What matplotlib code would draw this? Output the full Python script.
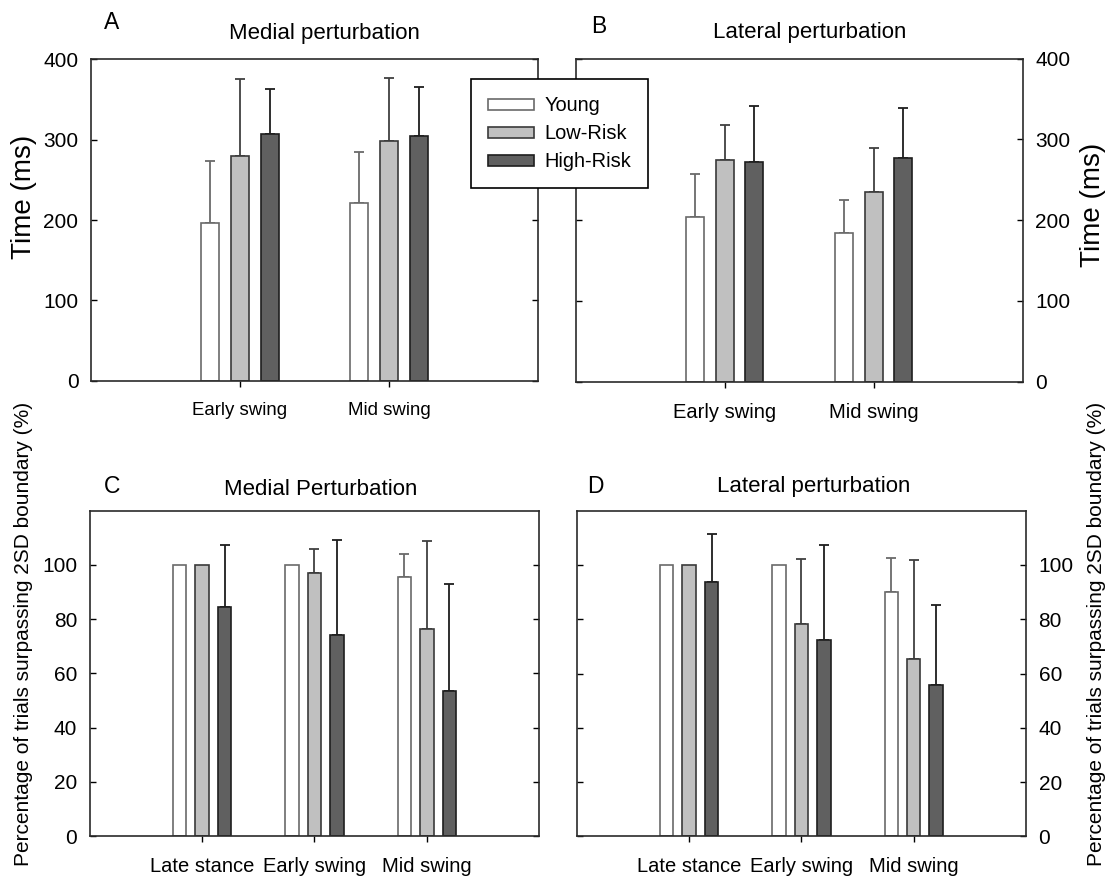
import matplotlib
matplotlib.use("Agg")
import matplotlib.pyplot as plt
from matplotlib.patches import Patch
import numpy as np

plt.rcParams['font.family'] = ['Liberation Sans', 'DejaVu Sans']

# Groups and bar styling
groups = ['Young', 'Low-Risk', 'High-Risk']
face_colors = ['#ffffff', '#c0c0c0', '#606060']
edge_colors = ['#6a6a6a', '#3a3a3a', '#1e1e1e']
err_colors = ['#6a6a6a', '#404040', '#1e1e1e']

# Top row: response time (ms)
time_phases = ['Early swing', 'Mid swing']
medial_time = {
    'Young': [196, 221],
    'Low-Risk': [280, 298],
    'High-Risk': [307, 304],
}
medial_time_err = {
    'Young': [77, 64],
    'Low-Risk': [96, 79],
    'High-Risk': [56, 62],
}
lateral_time = {
    'Young': [204, 184],
    'Low-Risk': [275, 235],
    'High-Risk': [272, 277],
}
lateral_time_err = {
    'Young': [53, 41],
    'Low-Risk': [43, 55],
    'High-Risk': [69, 62],
}

# Bottom row: percentage of trials surpassing 2SD boundary
pct_phases = ['Late stance', 'Early swing', 'Mid swing']
medial_pct = {
    'Young': [100, 100, 95.6],
    'Low-Risk': [100, 97, 76.4],
    'High-Risk': [84.5, 74.2, 53.4],
}
medial_pct_err = {
    'Young': [0, 0, 8.5],
    'Low-Risk': [0, 9, 32.5],
    'High-Risk': [22.9, 35, 39.7],
}
lateral_pct = {
    'Young': [100, 100, 89.9],
    'Low-Risk': [100, 78.3, 65.4],
    'High-Risk': [93.8, 72.4, 55.9],
}
lateral_pct_err = {
    'Young': [0, 0, 12.6],
    'Low-Risk': [0, 23.8, 36.4],
    'High-Risk': [17.7, 35.1, 29.2],
}

W, H = 1111, 876
fig = plt.figure(figsize=(W / 100, H / 100), dpi=100)


def rect(left, top, right, bottom):
    """Axes rectangle from pixel edges."""
    return [left / W, 1 - bottom / H, (right - left) / W, (bottom - top) / H]


def ftext(x, y, s, **kw):
    fig.text(x / W, 1 - y / H, s, **kw)


def draw_panel(ax, phases, values, errors, ylim, yticks, label_side, xfont):
    x = np.arange(1, len(phases) + 1)
    width = 0.12
    offsets = [-0.2, 0.0, 0.2]
    for g, off, fc, ec, erc in zip(groups, offsets, face_colors, edge_colors, err_colors):
        vals = np.array(values[g])
        errs = np.array(errors[g])
        ax.bar(x + off, vals, width, color=fc, edgecolor=ec, linewidth=1.2, zorder=2)
        show = errs > 0
        if show.any():
            ax.errorbar((x + off)[show], vals[show],
                        yerr=[np.zeros(show.sum()), errs[show]],
                        fmt='none', ecolor=erc, elinewidth=1.3, capsize=3.5,
                        capthick=1.3, zorder=1)
    ax.set_xlim(0, len(phases) + 1)
    ax.set_ylim(*ylim)
    ax.set_yticks(yticks)
    ax.set_xticks(x)
    ax.set_xticklabels(phases, fontsize=xfont)
    ax.tick_params(axis='x', direction='out', length=4, width=1, pad=11, top=False)
    ax.tick_params(axis='y', direction='in', length=4, width=1, pad=9,
                   left=True, right=True, labelsize=15,
                   labelleft=(label_side == 'left'), labelright=(label_side == 'right'))
    for sp in ax.spines.values():
        sp.set_color('#2a2a2a')
        sp.set_linewidth(1.2)


axA = fig.add_axes(rect(91, 59.3, 538, 380.7))
draw_panel(axA, time_phases, medial_time, medial_time_err, (0, 400),
           [0, 100, 200, 300, 400], 'left', 13.4)
axB = fig.add_axes(rect(575.7, 58.7, 1022.5, 381.7))
draw_panel(axB, time_phases, lateral_time, lateral_time_err, (0, 400),
           [0, 100, 200, 300, 400], 'right', 14.5)
axC = fig.add_axes(rect(89.6, 510.7, 539.3, 836))
draw_panel(axC, pct_phases, medial_pct, medial_pct_err, (0, 120),
           [0, 20, 40, 60, 80, 100], 'left', 14.5)
axD = fig.add_axes(rect(576.8, 510.7, 1026, 836.3))
draw_panel(axD, pct_phases, lateral_pct, lateral_pct_err, (0, 120),
           [0, 20, 40, 60, 80, 100], 'right', 14.5)

# Panel letters and titles
ftext(103.6, 29.3, 'A', fontsize=16.5, va='baseline')
ftext(591, 32.7, 'B', fontsize=16.5, va='baseline')
ftext(103.6, 493.3, 'C', fontsize=16.5, va='baseline')
ftext(587.5, 493.3, 'D', fontsize=16.5, va='baseline')
ftext(324, 39.3, 'Medial perturbation', fontsize=16, ha='center', va='baseline')
ftext(810, 38.3, 'Lateral perturbation', fontsize=16, ha='center', va='baseline')
ftext(320.5, 495, 'Medial Perturbation', fontsize=16, ha='center', va='baseline')
ftext(813.4, 491.7, 'Lateral perturbation', fontsize=16, ha='center', va='baseline')

# Axis titles
ftext(24, 197, 'Time (ms)', fontsize=20, rotation=90, ha='center', va='center')
ftext(1093, 205, 'Time (ms)', fontsize=20, rotation=90, ha='center', va='center')
pct_label = 'Percentage of trials surpassing 2SD boundary (%)'
ftext(24, 634, pct_label, fontsize=15, rotation=90, ha='center', va='center')
ftext(1096, 634, pct_label, fontsize=15, rotation=90, ha='center', va='center')

# Shared legend sitting across the top panels
handles = [Patch(facecolor=fc, edgecolor=ec, linewidth=1.2, label=g)
           for g, fc, ec in zip(groups, face_colors, edge_colors)]
fig.legend(handles=handles, loc='upper left',
           bbox_to_anchor=(470.7 / W, 1 - 79.3 / H), fontsize=14.4,
           frameon=True, fancybox=False, framealpha=1, edgecolor='black',
           handlelength=2.3, handleheight=0.45, handletextpad=0.55,
           labelspacing=0.45, borderpad=0.85, borderaxespad=0)
fig.legends[0].get_frame().set_linewidth(1.2)

fig.savefig('out.png', dpi=100)
